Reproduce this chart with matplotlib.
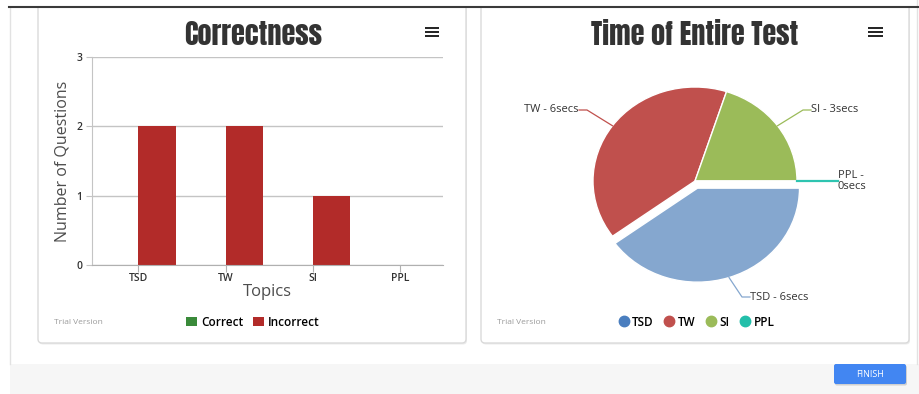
import matplotlib.pyplot as plt
from matplotlib.patches import FancyBboxPatch, Rectangle
from matplotlib.lines import Line2D
import numpy as np

W, H = 919, 394

# --- data ---
topics = ['TSD', 'TW', 'SI', 'PPL']
correct = [0, 0, 0, 0]
incorrect = [2, 2, 1, 0]

time_secs = [6, 6, 3, 0]
time_labels = ['TSD - 6secs', 'TW - 6secs', 'SI - 3secs', 'PPL -\n0secs']

BAR_GREEN = '#3a8a3a'
BAR_RED = '#b22b29'
PIE_COLORS = ['#85a7cf', '#c0504d', '#9bbb59', '#2ec4b0']
LEGEND_PIE = ['#4a7ebf', '#c0504d', '#9bbb59', '#23bfaa']

# label layout (page pixels): elbow of the connector, text anchor, alignment
label_elbow = [(742, 297), (587, 110), (803, 110), (836, 181)]
label_xy = [(750, 297), (579, 110), (811, 110), (838, 181)]
label_ha = ['left', 'right', 'left', 'left']

plt.rcParams['font.family'] = ['Open Sans', 'DejaVu Sans']
TITLE_FONT = dict(family=['Anton', 'DejaVu Sans'], fontsize=20.3, color='#333333')


def px_box(x0, y0, x1, y1):
    return [x0 / W, 1 - y1 / H, (x1 - x0) / W, (y1 - y0) / H]


fig = plt.figure(figsize=(W / 100, H / 100), dpi=100)
bg = fig.add_axes([0, 0, 1, 1])
bg.set_xlim(0, W)
bg.set_ylim(H, 0)
bg.axis('off')

# page furniture
bg.add_patch(Rectangle((10, 364), W - 10, 30, color='#f6f6f6', lw=0))
bg.plot([10, 10], [7, 364], color='#e2e2e2', lw=1)
bg.plot([917, 917], [0, 364], color='#e2e2e2', lw=1)
for x0, x1 in [(38, 466), (481, 909)]:
    bg.add_patch(FancyBboxPatch((x0 + 1, -10 + 1.5), x1 - x0, 353, boxstyle='round,pad=0,rounding_size=4',
                                fc='#ececec', ec='none'))
    bg.add_patch(FancyBboxPatch((x0, -10), x1 - x0, 353, boxstyle='round,pad=0,rounding_size=4',
                                fc='white', ec='#dadada', lw=1))
bg.add_patch(Rectangle((0, 0), W, 7, color='white', lw=0))
bg.plot([9, W], [7, 7], color='#3a3a3a', lw=1.5)

# titles and menu icons
bg.text(253, 34, 'Correctness', ha='center', va='center', **TITLE_FONT)
bg.text(695, 34, 'Time of Entire Test', ha='center', va='center', **TITLE_FONT)
for x0, x1, ys in [(425, 439, (27.5, 31.5, 35.5)), (868, 883, (27.5, 31.5, 35.5))]:
    for y in ys:
        bg.plot([x0, x1], [y, y], color='#222222', lw=1.4, solid_capstyle='butt')

bg.text(54, 323, 'Trial Version', fontsize=6, color='#9a9a9a', va='center')
bg.text(497, 323, 'Trial Version', fontsize=6, color='#9a9a9a', va='center')

# finish button
bg.add_patch(FancyBboxPatch((835, 365.5), 72, 20, boxstyle='round,pad=0,rounding_size=2',
                            fc='#d0d0d0', ec='none'))
bg.add_patch(FancyBboxPatch((834, 364), 72, 20, boxstyle='round,pad=0,rounding_size=2',
                            fc='#4286f2', ec='none'))
bg.text(870, 374.5, 'FINISH', color='white', fontsize=6.5, ha='center', va='center')

# --- bar chart ---
ax = fig.add_axes(px_box(92, 57, 443, 265))
x = np.arange(len(topics))
width = 0.43
ax.bar(x - width / 2, correct, width, color=BAR_GREEN, label='Correct')
ax.bar(x + width / 2, incorrect, width, color=BAR_RED, label='Incorrect')
ax.set_xlim(-0.53, 3.49)
ax.set_ylim(0, 3)
ax.set_yticks([0, 1, 2, 3])
ax.set_xticks(x)
ax.set_xticklabels(topics)
ax.grid(axis='y', color='#c4c4c4', lw=1)
ax.set_axisbelow(True)
for s in ['top', 'right']:
    ax.spines[s].set_visible(False)
ax.spines['left'].set_color('#c4c4c4')
ax.spines['bottom'].set_color('#b0b0b0')
ax.tick_params(axis='y', length=4, color='#c4c4c4', labelsize=7.5, labelcolor='#333333', pad=3)
ax.tick_params(axis='x', length=5, color='#b0b0b0', labelsize=7.5, labelcolor='#333333', pad=1)
for t in ax.get_xticklabels() + ax.get_yticklabels():
    t.set_fontweight('semibold')
ax.set_xlabel('Topics', fontsize=12, color='#4d4d4d', labelpad=0)
ax.set_ylabel('Number of Questions', fontsize=11.5, color='#4d4d4d', labelpad=4)
ax.legend(loc='center', bbox_to_anchor=(253 / W, 1 - 322 / H), bbox_transform=fig.transFigure,
          ncol=2, frameon=False, prop={'weight': 'semibold', 'size': 8.5},
          handlelength=0.9, handleheight=0.9, handletextpad=0.4, columnspacing=0.8)

# --- pie chart ---
cx, cy, rx, ry = 695, 181, 102, 94
pax = fig.add_axes(px_box(cx - 1.2 * rx, cy - 1.2 * ry, cx + 1.2 * rx, cy + 1.2 * ry))
wedges, _ = pax.pie(time_secs, colors=PIE_COLORS, startangle=0, counterclock=False,
                    explode=[0.08, 0, 0, 0], wedgeprops=dict(edgecolor='white', linewidth=1))
pax.set_aspect('auto')
pax.set_xlim(-1.2, 1.2)
pax.set_ylim(-1.2, 1.2)

inv = pax.transData.inverted()
for w, lab, el, txy, ha, col in zip(wedges, time_labels, label_elbow, label_xy, label_ha, PIE_COLORS):
    mid = np.deg2rad((w.theta1 + w.theta2) / 2)
    ex, ey = w.center[0] + w.r * np.cos(mid), w.center[1] + w.r * np.sin(mid)
    elx, ely = inv.transform((el[0], H - el[1]))
    tx, ty = inv.transform((txy[0], H - txy[1]))
    lw = 1.6 if lab.startswith('PPL') else 0.9
    pax.plot([ex, elx, tx], [ey, ely, ty], color=col, lw=lw, clip_on=False)
    pax.text(tx, ty, lab, ha=ha, va='center', fontsize=8, color='#333333', linespacing=1.1)

handles = [Line2D([], [], marker='o', ls='', markersize=7.5, color=c) for c in LEGEND_PIE]
fig.legend(handles, topics, loc='center', bbox_to_anchor=(697 / W, 1 - 322 / H),
           ncol=4, frameon=False, prop={'weight': 'semibold', 'size': 8.5},
           handlelength=0.7, handletextpad=0.35, columnspacing=1.0)

fig.savefig('out.png', dpi=100)
